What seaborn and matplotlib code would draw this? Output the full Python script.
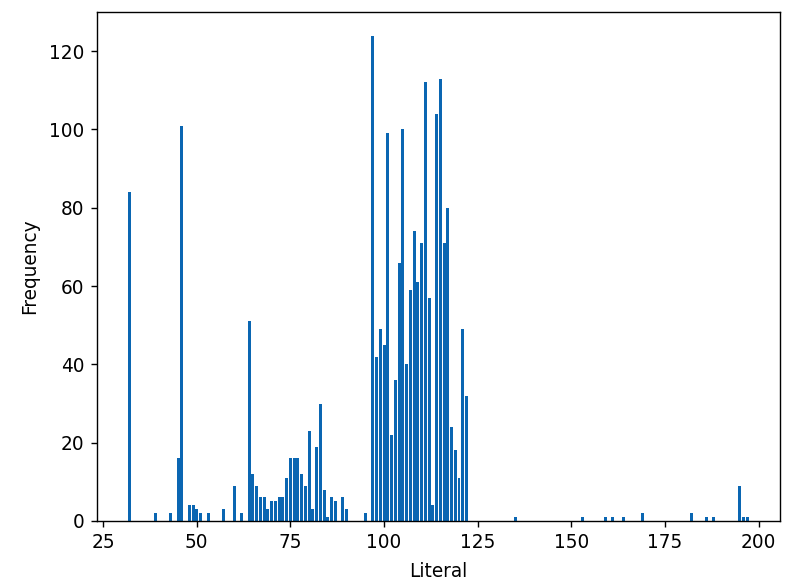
import matplotlib
matplotlib.use("Agg")
import matplotlib.pyplot as plt
import seaborn as sns
import pandas as pd

literals = [32, 39, 43, 45, 46, 48, 49, 50, 51, 53, 57, 60, 62, 64, 65, 66, 67, 68, 69, 70,
            71, 72, 73, 74, 75, 76, 77, 78, 79, 80, 81, 82, 83, 84, 85, 86, 87, 89, 90, 95,
            97, 98, 99, 100, 101, 102, 103, 104, 105, 106, 107, 108, 109, 110, 111, 112, 113,
            114, 115, 116, 117, 118, 119, 120, 121, 122,
            135, 153, 159, 161, 164, 169, 182, 186, 188, 195, 196, 197]
frequency = [84, 2, 2, 16, 101, 4, 4, 3, 2, 2, 3, 9, 2, 51, 12, 9, 6, 6, 3, 5,
             5, 6, 6, 11, 16, 16, 16, 12, 9, 23, 3, 19, 30, 8, 1, 6, 5, 6, 3, 2,
             124, 42, 49, 45, 99, 22, 36, 66, 100, 40, 59, 74, 61, 71, 112, 57, 4,
             104, 113, 71, 80, 24, 18, 11, 49, 32,
             1, 1, 1, 1, 1, 2, 2, 1, 1, 9, 1, 1]

df = pd.DataFrame({"Literal": literals, "Frequency": frequency})

plt.rcParams["font.size"] = 10.7
fig = plt.figure(figsize=(6.4, 4.688), dpi=125)
ax = fig.add_axes([0.121, 0.111, 0.854, 0.8685])
sns.barplot(data=df, x="Literal", y="Frequency", native_scale=True, width=0.8,
            color="#0a66b2", saturation=1, ax=ax)
ax.set_xlim(23.3, 205.7)
ax.set_ylim(0, 130)
ax.set_xticks([25, 50, 75, 100, 125, 150, 175, 200])
ax.set_yticks([0, 20, 40, 60, 80, 100, 120])
ax.set_xlabel("Literal", labelpad=5.5)
ax.set_ylabel("Frequency", labelpad=6)
fig.savefig("out.png", dpi=125)
